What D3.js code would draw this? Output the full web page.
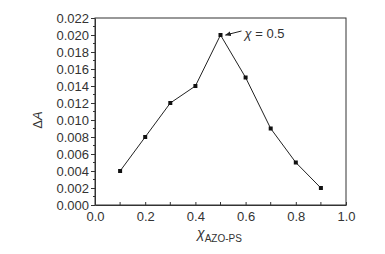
<!DOCTYPE html>
<html>
<head>
<meta charset="utf-8">
<script src="https://cdn.jsdelivr.net/npm/d3@7"></script>
<style>
  body { margin: 0; background: #fff; }
  svg text { font-family: Arial, "Liberation Sans", sans-serif; fill: #333; }
</style>
</head>
<body>
<div id="chart"></div>
<script>
// data
var xValues = [0.1, 0.2, 0.3, 0.4, 0.5, 0.6, 0.7, 0.8, 0.9];
var dA = [0.004, 0.008, 0.012, 0.014, 0.020, 0.015, 0.009, 0.005, 0.002];
var xTicks = [0.0, 0.2, 0.4, 0.6, 0.8, 1.0];
var yTicks = [0.000, 0.002, 0.004, 0.006, 0.008, 0.010, 0.012, 0.014, 0.016, 0.018, 0.020, 0.022];
var peak = { x: 0.5, y: 0.020, label: "= 0.5" };

var width = 385, height = 254;
var margin = { top: 18, right: 39, bottom: 49, left: 95 };
var innerW = width - margin.left - margin.right;
var innerH = height - margin.top - margin.bottom;

var svg = d3.select("#chart").append("svg")
    .attr("width", width)
    .attr("height", height);

var g = svg.append("g")
    .attr("transform", "translate(" + margin.left + "," + margin.top + ")");

var x = d3.scaleLinear().domain([0, 1]).range([0, innerW]);
var y = d3.scaleLinear().domain([0, 0.022]).range([innerH, 0]);

// frame
g.append("rect")
    .attr("width", innerW)
    .attr("height", innerH)
    .attr("fill", "none")
    .attr("stroke", "#333")
    .attr("stroke-width", 1);

// minor ticks (x: every 0.1 inward, y: every 0.001 outward)
var xMinor = d3.range(0.1, 1, 0.2);
g.append("g")
    .attr("transform", "translate(0," + innerH + ")")
    .selectAll("line").data(xMinor).enter().append("line")
    .attr("x1", d => x(d)).attr("x2", d => x(d))
    .attr("y1", 0).attr("y2", -3)
    .attr("stroke", "#333");

var yMinor = d3.range(0.001, 0.022, 0.002);
g.append("g")
    .selectAll("line").data(yMinor).enter().append("line")
    .attr("x1", 0).attr("x2", -2)
    .attr("y1", d => y(d)).attr("y2", d => y(d))
    .attr("stroke", "#333");

// axes
var xAxis = g.append("g")
    .attr("transform", "translate(0," + innerH + ")")
    .call(d3.axisBottom(x).tickValues(xTicks).tickFormat(d3.format(".1f")).tickSizeInner(-3).tickSizeOuter(0).tickPadding(7));
xAxis.select(".domain").attr("stroke", "#333");
xAxis.selectAll(".tick line").attr("stroke", "#333");
xAxis.selectAll(".tick text").style("font-size", "13px").attr("fill", "#333");

var yAxis = g.append("g")
    .call(d3.axisLeft(y).tickValues(yTicks).tickFormat(d3.format(".3f")).tickSizeInner(4).tickSizeOuter(0).tickPadding(2));
yAxis.select(".domain").attr("stroke", "#333");
yAxis.selectAll(".tick line").attr("stroke", "#333");
yAxis.selectAll(".tick text").style("font-size", "13px").attr("fill", "#333");

// line + markers
var pts = xValues.map((v, i) => [v, dA[i]]);
g.append("path")
    .datum(pts)
    .attr("fill", "none")
    .attr("stroke", "#222")
    .attr("stroke-width", 1)
    .attr("d", d3.line().x(d => x(d[0])).y(d => y(d[1])));

g.selectAll(".pt").data(pts).enter().append("rect")
    .attr("class", "pt")
    .attr("x", d => x(d[0]) - 2)
    .attr("y", d => y(d[1]) - 2)
    .attr("width", 4)
    .attr("height", 4)
    .attr("fill", "#111");

// annotation arrow
svg.append("defs").append("marker")
    .attr("id", "arr")
    .attr("viewBox", "0 0 10 10")
    .attr("refX", 9).attr("refY", 5)
    .attr("markerWidth", 6).attr("markerHeight", 6)
    .attr("orient", "auto")
    .append("path").attr("d", "M0,1 L10,5 L0,9 Z").attr("fill", "#222");

var px = x(peak.x), py = y(peak.y);
g.append("line")
    .attr("x1", px + 21).attr("y1", py - 4)
    .attr("x2", px + 5).attr("y2", py)
    .attr("stroke", "#222")
    .attr("stroke-width", 1)
    .attr("marker-end", "url(#arr)");

var ann = g.append("text")
    .attr("x", px + 24)
    .attr("y", py + 3)
    .style("font-size", "13px");
ann.append("tspan").style("font-style", "italic").text("\u03C7");
ann.append("tspan").text(" " + peak.label);

// axis titles
svg.append("text")
    .attr("transform", "translate(42,120) rotate(-90)")
    .attr("text-anchor", "middle")
    .style("font-size", "13px")
    .html("\u0394<tspan font-style='italic'>A</tspan>");

var xt = svg.append("text")
    .attr("x", 197)
    .attr("y", 238)
    .style("font-size", "14px");
xt.append("tspan").style("font-style", "italic").text("\u03C7");
xt.append("tspan").attr("dy", 4).style("font-size", "10px").text("AZO-PS");
</script>
</body>
</html>
